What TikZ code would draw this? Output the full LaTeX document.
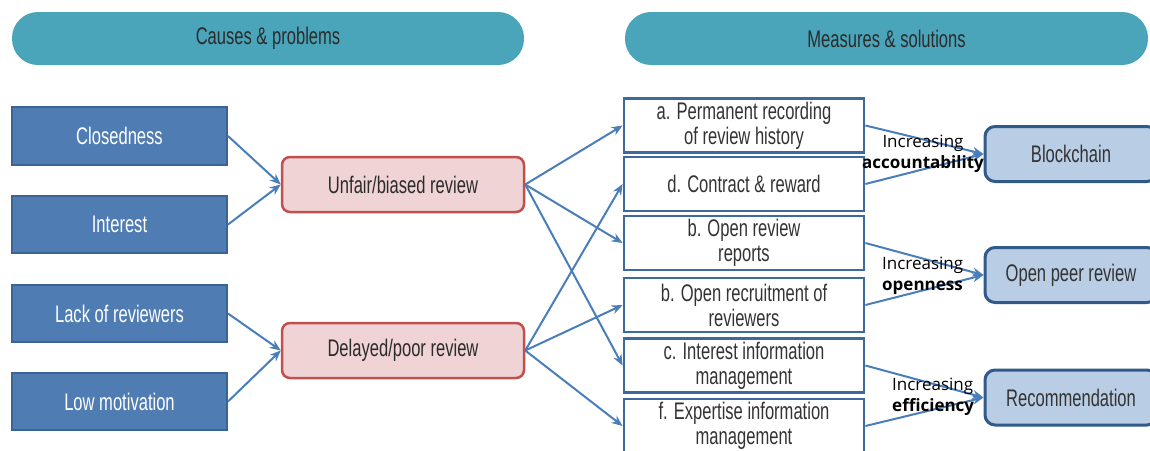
\documentclass[tikz,border=0pt]{standalone}
\usepackage{fontspec}
\setmainfont{Liberation Sans}[FakeStretch=0.69]
\newfontfamily\labfont{Open Sans}
\usetikzlibrary{arrows.meta}
\definecolor{headfill}{HTML}{4BA5BA}
\definecolor{headtext}{HTML}{2B2B2B}
\definecolor{bluefill}{HTML}{4F7DB3}
\definecolor{blueline}{HTML}{3A6494}
\definecolor{redfill}{HTML}{F0D3D4}
\definecolor{redline}{HTML}{C0504D}
\definecolor{boxline}{HTML}{3E6A9B}
\definecolor{rightfill}{HTML}{B9CDE5}
\definecolor{rightline}{HTML}{2F5A8A}
\definecolor{arrowcol}{HTML}{4A7EBB}
\definecolor{txt}{HTML}{333333}
\tikzset{
  every node/.style={inner sep=0pt, font=\fontsize{24}{25}\selectfont},
  header/.style={fill=headfill, draw=none, rounded corners=26pt, minimum height=53pt, text=headtext},
  causebox/.style={fill=bluefill, draw=blueline, line width=2pt, minimum width=215pt, minimum height=57pt, text=white},
  problembox/.style={fill=redfill, draw=redline, line width=2.5pt, rounded corners=8pt, minimum width=242pt, minimum height=55pt, text=headtext},
  measurebox/.style={fill=white, draw=boxline, line width=2.8pt, minimum width=240pt, minimum height=54pt, text=txt, align=center},
  solutionbox/.style={fill=rightfill, draw=rightline, line width=3pt, rounded corners=10pt, minimum width=172pt, minimum height=55pt, text=txt},
  conn/.style={draw=arrowcol, line width=2pt, -{Stealth[length=11pt,width=9pt]}},
  gain/.style={font=\labfont\fontsize{17}{21}\selectfont, text=black}
}
\begin{document}
\begin{tikzpicture}[x=1pt, y=-1pt]
\useasboundingbox (0,0) rectangle (1150,450);
\clip (0,0) rectangle (1150,450);

% headers
\node[header, minimum width=512pt] (h1) at (268,38.5) {Causes \& problems};
\node[header, minimum width=523pt] (h2) at (886.5,38.5) {Measures \& solutions};

% causes
\node[causebox, minimum height=58pt] (clo) at (119.5,136) {Closedness};
\node[causebox] (int) at (119.5,224.5) {Interest};
\node[causebox] (lack) at (119.5,313.5) {Lack of reviewers};
\node[causebox] (low) at (119.5,401.5) {Low motivation};

% problems
\node[problembox] (unf) at (403,184.5) {Unfair/biased review};
\node[problembox] (del) at (403,350.5) {Delayed/poor review};

% measures
\node[measurebox] (ma) at (744,125.5) {a. Permanent recording\\of review history};
\node[measurebox] (md) at (744,184) {d. Contract \& reward};
\node[measurebox] (mb1) at (744,243) {b. Open review\\reports};
\node[measurebox] (mb2) at (744,305) {b. Open recruitment of\\reviewers};
\node[measurebox] (mc) at (744,365.5) {c. Interest information\\management};
\node[measurebox] (mf) at (744,426) {f. Expertise information\\management};

% solutions
\node[solutionbox] (blk) at (1071,154) {Blockchain};
\node[solutionbox] (opr) at (1071,275) {Open peer review};
\node[solutionbox] (rec) at (1071,397.5) {Recommendation};

% connectors
\draw[conn] (clo.east) -- (unf.west);
\draw[conn] (int.east) -- (unf.west);
\draw[conn] (lack.east) -- (del.west);
\draw[conn] (low.east) -- (del.west);

\draw[conn] (unf.east) -- (ma.west);
\draw[conn] (unf.east) -- (mb1.west);
\draw[conn] (unf.east) -- (mc.west);
\draw[conn] (del.east) -- (md.west);
\draw[conn] (del.east) -- (mb2.west);
\draw[conn] (del.east) -- (mf.west);

\draw[conn] (ma.east) -- (blk.west);
\draw[conn] (md.east) -- (blk.west);
\draw[conn] (mb1.east) -- (opr.west);
\draw[conn] (mb2.east) -- (opr.west);
\draw[conn] (mc.east) -- (rec.west);
\draw[conn] (mf.east) -- (rec.west);

% labels
\node[gain, align=center] (g1) at (923,153.5) {Increasing\\\textbf{accountability}};
\node[gain, align=left, anchor=west] (g2) at (882,275.5) {Increasing\\\textbf{openness}};
\node[gain, align=left, anchor=west] (g3) at (892,396.5) {Increasing\\\textbf{efficiency}};
\end{tikzpicture}
\end{document}
